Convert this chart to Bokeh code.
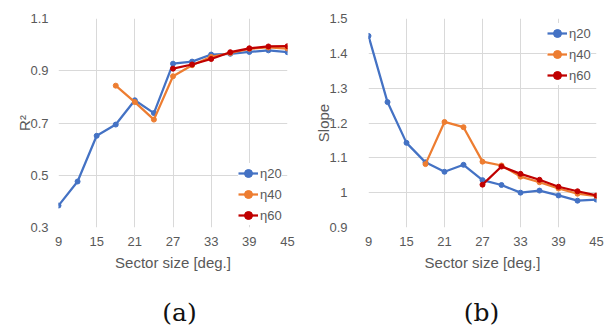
from bokeh.plotting import figure
from bokeh.layouts import row, column
from bokeh.models import FixedTicker, CustomJSTickFormatter, Legend, LegendItem, Label
from bokeh.embed import file_html
from bokeh.resources import INLINE

# ---- data ----
sector = [9, 12, 15, 18, 21, 24, 27, 30, 33, 36, 39, 42, 45]
x_ticks = [9, 15, 21, 27, 33, 39, 45]

r2_eta20 = [0.384, 0.476, 0.651, 0.694, 0.787, 0.738, 0.927, 0.935, 0.962, 0.965, 0.972, 0.978, 0.971]
r2_eta40_x = [18, 21, 24, 27, 30, 33, 36, 39, 42, 45]
r2_eta40 = [0.843, 0.780, 0.713, 0.879, 0.921, 0.953, 0.968, 0.984, 0.989, 0.985]
r2_eta60_x = [27, 30, 33, 36, 39, 42, 45]
r2_eta60 = [0.908, 0.924, 0.945, 0.971, 0.986, 0.993, 0.994]
r2_ticks = [0.3, 0.5, 0.7, 0.9, 1.1]

slope_eta20 = [1.450, 1.260, 1.143, 1.087, 1.060, 1.080, 1.036, 1.022, 1.000, 1.006, 0.992, 0.977, 0.980]
slope_eta40_x = [18, 21, 24, 27, 30, 33, 36, 39, 42, 45]
slope_eta40 = [1.082, 1.203, 1.188, 1.089, 1.078, 1.046, 1.030, 1.012, 0.997, 0.990]
slope_eta60_x = [27, 30, 33, 36, 39, 42, 45]
slope_eta60 = [1.023, 1.075, 1.054, 1.037, 1.017, 1.004, 0.992]
slope_ticks = [0.9, 1.0, 1.1, 1.2, 1.3, 1.4, 1.5]

series_names = ["η20", "η40", "η60"]
colors = ["#4472C4", "#ED7D31", "#C00000"]
captions = ["(a)", "(b)"]

TXT = "#595959"
FONT = "Liberation Sans"
MAIN_H = 290
CAP_H = 37


def make_fig(width, yr, yticks, ylabel, bl, br, ystandoff, ylab_standoff):
    p = figure(width=width, height=MAIN_H, x_range=(9, 45), y_range=yr,
               output_backend="svg", toolbar_location=None,
               min_border_left=bl, min_border_right=br, min_border_top=18,
               min_border_bottom=MAIN_H - 18 - 209)
    p.outline_line_color = None
    p.background_fill_color = "white"
    p.xaxis.ticker = FixedTicker(ticks=x_ticks)
    p.yaxis.ticker = FixedTicker(ticks=yticks)
    p.yaxis.formatter = CustomJSTickFormatter(code="return tick.toFixed(1).replace(/\\.0$/, '');")
    for ax in (p.xaxis, p.yaxis):
        ax.axis_line_color = None
        ax.major_tick_line_color = None
        ax.minor_tick_line_color = None
        ax.major_tick_out = 0
        ax.major_tick_in = 0
        ax.minor_tick_out = 0
        ax.major_label_text_font = FONT
        ax.major_label_text_font_size = "13px"
        ax.major_label_text_color = TXT
        ax.axis_label_text_font = FONT
        ax.axis_label_text_font_size = "15px"
        ax.axis_label_text_font_style = "normal"
        ax.axis_label_text_color = TXT
    p.xaxis.axis_label = "Sector size [deg.]"
    p.xaxis.major_label_standoff = 9
    p.xaxis.axis_label_standoff = 5
    p.yaxis.axis_label = ylabel
    p.yaxis.major_label_standoff = ystandoff
    p.yaxis.axis_label_standoff = ylab_standoff
    p.xgrid.grid_line_color = "#D9D9D9"
    p.ygrid.grid_line_color = "#D9D9D9"
    p.xgrid.grid_line_width = 1
    p.ygrid.grid_line_width = 1
    return p


def add_series(p, xs_list, ys_list, loc):
    items = []
    for name, c, xs, ys in zip(series_names, colors, xs_list, ys_list):
        l = p.line(xs, ys, line_color=c, line_width=2.25)
        m = p.scatter(xs, ys, marker="circle", size=5, fill_color=c, line_color=c)
        items.append(LegendItem(label=name, renderers=[l, m]))
    leg = Legend(items=items, location=loc, padding=0, margin=0, spacing=1,
                 label_height=20, glyph_height=20, glyph_width=20, label_standoff=2,
                 label_text_font=FONT, label_text_font_size="13px", label_text_color=TXT,
                 border_line_color=None, background_fill_color="white", background_fill_alpha=1.0)
    p.add_layout(leg, "center")


def caption_fig(width, text, cx):
    c = figure(width=width, height=CAP_H, x_range=(0, width), y_range=(0, CAP_H),
               output_backend="svg", toolbar_location=None, min_border=0,
               x_axis_location=None, y_axis_location=None)
    c.outline_line_color = None
    c.grid.visible = False
    c.add_layout(Label(x=cx, y=CAP_H - 22, text=text, text_align="center", text_baseline="middle",
                       text_font="DejaVu Serif", text_font_size="25px", text_color="#111111"))
    return c


p1 = make_fig(300, (0.3, 1.1), r2_ticks, "R²", 58, 13, 10, -6)
add_series(p1, [sector, r2_eta40_x, r2_eta60_x], [r2_eta20, r2_eta40, r2_eta60], (180, 2))

p2 = make_fig(307, (0.9, 1.5), slope_ticks, "Slope", 68, 11, 21, -6)
p2.min_border_bottom = MAIN_H - 18 - 210
add_series(p2, [sector, slope_eta40_x, slope_eta60_x], [slope_eta20, slope_eta40, slope_eta60], (179, 142))

c1 = caption_fig(300, captions[0], 179)
c2 = caption_fig(307, captions[1], 181)

layout = column(row(p1, p2, spacing=0), row(c1, c2, spacing=0), spacing=0)
open("out.html", "w").write(file_html(layout, INLINE))
